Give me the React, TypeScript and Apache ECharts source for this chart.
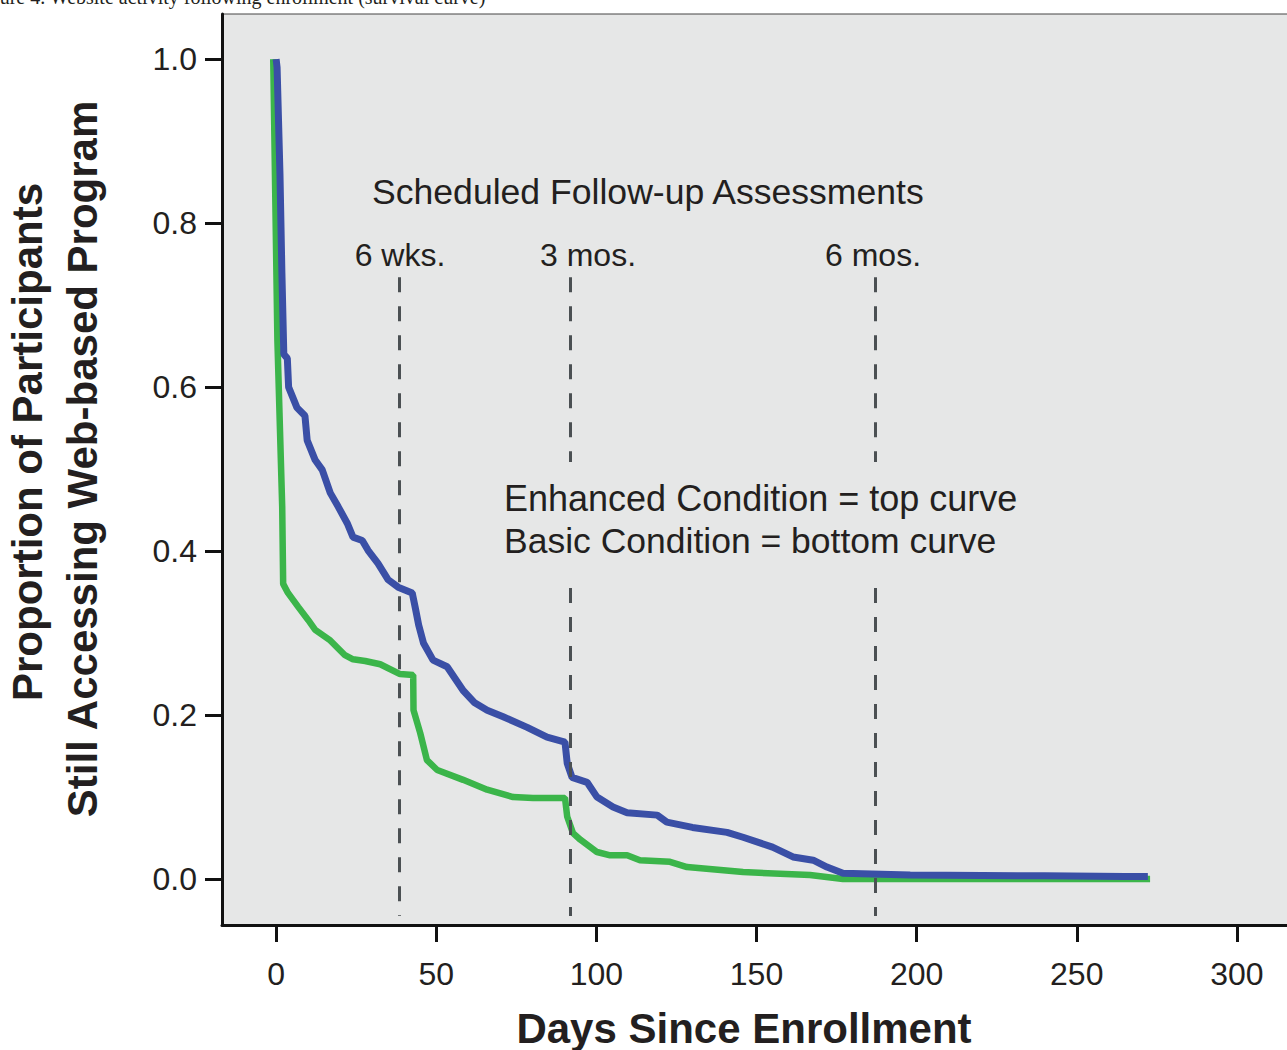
import React, { useEffect, useRef } from "react";
import * as echarts from "echarts";

const blueDays = [0, 0.3, 1.2, 1.8, 2.4, 3.5, 3.9, 6.5, 9.0, 9.7, 12.2, 14.4, 16.9, 19.4, 22.2, 24, 26.9, 28.7, 31.8, 35, 38.1, 42.5, 43.5, 44.5, 46, 49, 53.4, 58.4, 62, 65.9, 70.9, 78.4, 84.6, 90.2, 90.9, 92.4, 97.1, 100.2, 105.2, 109.6, 119, 122, 130, 140.8, 145.8, 155, 161.4, 167.7, 172, 177, 198, 240, 265, 272.2];
const blueValues = [1.0, 0.99, 0.86, 0.74, 0.64, 0.635, 0.6, 0.575, 0.565, 0.535, 0.511, 0.499, 0.471, 0.454, 0.434, 0.417, 0.413, 0.401, 0.385, 0.365, 0.356, 0.349, 0.33, 0.31, 0.288, 0.267, 0.259, 0.23, 0.215, 0.206, 0.198, 0.185, 0.173, 0.167, 0.141, 0.124, 0.118, 0.1, 0.088, 0.081, 0.078, 0.0695, 0.063, 0.057, 0.051, 0.039, 0.027, 0.023, 0.0146, 0.007, 0.005, 0.004, 0.003, 0.003];

const greenDays = [-0.9, 0.4, 1.9, 2.2, 3.7, 6.9, 10, 12.2, 16.9, 21.5, 24, 27.8, 32.5, 38.7, 42.8, 42.9, 45, 47.1, 50.3, 58.4, 65.9, 74, 80.2, 90.2, 90.9, 92.7, 95, 100.2, 104.3, 109.6, 113.6, 123, 128.3, 145.8, 166.7, 177, 272.9];
const greenValues = [1.0, 0.657, 0.454, 0.36, 0.349, 0.332, 0.316, 0.304, 0.291, 0.273, 0.268, 0.266, 0.262, 0.25, 0.249, 0.206, 0.178, 0.145, 0.133, 0.121, 0.109, 0.1, 0.099, 0.099, 0.076, 0.056, 0.048, 0.033, 0.029, 0.029, 0.023, 0.021, 0.0146, 0.0085, 0.005, 0.0, 0.0];

const xTicks = [0, 50, 100, 150, 200, 250, 300];
const yTicks = [0, 0.2, 0.4, 0.6, 0.8, 1.0];

const followUpDays = [38.6, 91.8, 187.0];
const followUpLabels = ["6 wks.", "3 mos.", "6 mos."];
const dashTop = 0.734;
const dashBottom = -0.045;
const gapTop = 0.5085;
const gapBottom = 0.355;

const SANS = '"Liberation Sans", Arial, Helvetica, sans-serif';
const SERIF = '"Liberation Serif", "Times New Roman", serif';
const TEXT = "#231f20";

function txt(text: string, x: number, y: number, font: string, align: string, extra: any = {}) {
  return {
    type: "text",
    x,
    y,
    ...extra,
    style: {
      text,
      font,
      fill: TEXT,
      align,
      textAlign: align,
      verticalAlign: "middle",
      textVerticalAlign: "middle",
    },
  };
}

export default function App() {
  const ref = useRef<HTMLDivElement>(null);
  useEffect(() => {
    document.body.style.margin = "0";
    const chart = echarts.init(ref.current!, null, { renderer: "svg" });

    const markData: any[] = [];
    followUpDays.forEach((d, i) => {
      if (i === 0) {
        markData.push([{ coord: [d, dashTop] }, { coord: [d, dashBottom] }]);
      } else {
        markData.push([{ coord: [d, dashTop] }, { coord: [d, gapTop] }]);
        markData.push([{ coord: [d, gapBottom] }, { coord: [d, dashBottom] }]);
      }
    });

    const labelX = [400, 588, 873];

    chart.setOption({
      animation: false,
      grid: {
        left: 222,
        top: 14,
        right: -4,
        bottom: 125,
        show: true,
        backgroundColor: "#e6e7e7",
        borderColor: "#444",
        borderWidth: 1,
        containLabel: false,
        outerBoundsMode: "none",
      },
      xAxis: {
        type: "value",
        min: -16.9,
        max: 316.9,
        axisLine: { show: true, onZero: false, lineStyle: { color: "#111", width: 3 } },
        axisTick: { show: true, length: 17, lineStyle: { color: "#111", width: 3 }, customValues: xTicks },
        axisLabel: { customValues: xTicks, margin: 33, fontSize: 32, fontFamily: SANS, color: TEXT },
        splitLine: { show: false },
      },
      yAxis: {
        type: "value",
        min: -0.056,
        max: 1.055,
        axisLine: { show: true, onZero: false, lineStyle: { color: "#111", width: 3 } },
        axisTick: { show: true, length: 17, lineStyle: { color: "#111", width: 3 }, customValues: yTicks },
        axisLabel: {
          customValues: yTicks,
          margin: 25,
          fontSize: 32,
          fontFamily: SANS,
          color: TEXT,
          formatter: (v: number) => v.toFixed(1),
        },
        splitLine: { show: false },
      },
      series: [
        {
          type: "line",
          name: "Basic",
          z: 2,
          symbol: "none",
          data: greenDays.map((d, i) => [d, greenValues[i]]),
          lineStyle: { color: "#3bb54a", width: 6.5 },
          markLine: {
            silent: true,
            symbol: ["none", "none"],
            label: { show: false },
            lineStyle: { type: [15, 14], width: 3, color: "#4b5053" },
            data: markData,
          },
        },
        {
          type: "line",
          name: "Enhanced",
          z: 3,
          symbol: "none",
          data: blueDays.map((d, i) => [d, blueValues[i]]),
          lineStyle: { color: "#3a4fa6", width: 7 },
        },
      ],
      graphic: [
        txt("Figure 4. Website activity following enrollment (survival curve)", -27, -3, `20px ${SERIF}`, "left"),
        txt("Scheduled Follow-up Assessments", 372, 192, `35.6px ${SANS}`, "left"),
        ...followUpLabels.map((l, i) => txt(l, labelX[i], 255, `32px ${SANS}`, "center")),
        txt("Enhanced Condition = top curve", 504, 498.5, `36px ${SANS}`, "left"),
        txt("Basic Condition = bottom curve", 504, 540.5, `35.5px ${SANS}`, "left"),
        txt("Days Since Enrollment", 744, 1028, `bold 42px ${SANS}`, "center"),
        txt("Proportion of Participants", 27.5, 442, `bold 42px ${SANS}`, "center", { rotation: Math.PI / 2 }),
        txt("Still Accessing Web-based Program", 82.5, 459, `bold 42px ${SANS}`, "center", { rotation: Math.PI / 2 }),
      ],
    });
    return () => chart.dispose();
  }, []);
  return (
    <div
      ref={ref}
      style={{ position: "fixed", left: 0, top: 0, width: 1287, height: 1050, background: "#fff" }}
    />
  );
}
